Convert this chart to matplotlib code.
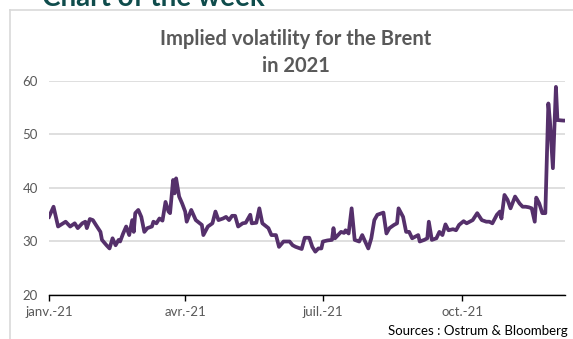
import matplotlib.pyplot as plt
import pandas as pd

# implied vol, Brent, 2021
dates = [
    '2021-01-01', '2021-01-04', '2021-01-07', '2021-01-12', '2021-01-15', '2021-01-18',
    '2021-01-20', '2021-01-23', '2021-01-25', '2021-01-26', '2021-01-28', '2021-01-30',
    '2021-02-01', '2021-02-04', '2021-02-05', '2021-02-08', '2021-02-10', '2021-02-12',
    '2021-02-14', '2021-02-16', '2021-02-17', '2021-02-19', '2021-02-21', '2021-02-23',
    '2021-02-25', '2021-02-26', '2021-02-27', '2021-03-01', '2021-03-03', '2021-03-05',
    '2021-03-07', '2021-03-10', '2021-03-11', '2021-03-13', '2021-03-15', '2021-03-17',
    '2021-03-19', '2021-03-21', '2021-03-22', '2021-03-24', '2021-03-25', '2021-03-26',
    '2021-03-28', '2021-03-30', '2021-04-01', '2021-04-02', '2021-04-05', '2021-04-08',
    '2021-04-12', '2021-04-13', '2021-04-16', '2021-04-19', '2021-04-21', '2021-04-23',
    '2021-04-26', '2021-04-28', '2021-04-30', '2021-05-02', '2021-05-04', '2021-05-06',
    '2021-05-09', '2021-05-11', '2021-05-14', '2021-05-15', '2021-05-18', '2021-05-20',
    '2021-05-22', '2021-05-26', '2021-05-28', '2021-05-31', '2021-06-02', '2021-06-05',
    '2021-06-09', '2021-06-11', '2021-06-13', '2021-06-17', '2021-06-19', '2021-06-22',
    '2021-06-24', '2021-06-26', '2021-06-28', '2021-06-30', '2021-07-01', '2021-07-04',
    '2021-07-07', '2021-07-08', '2021-07-09', '2021-07-11', '2021-07-13', '2021-07-15',
    '2021-07-16', '2021-07-18', '2021-07-20', '2021-07-22', '2021-07-25', '2021-07-27',
    '2021-07-31', '2021-08-02', '2021-08-04', '2021-08-06', '2021-08-10', '2021-08-12',
    '2021-08-14', '2021-08-17', '2021-08-19', '2021-08-20', '2021-08-23', '2021-08-25',
    '2021-08-27', '2021-08-29', '2021-09-02', '2021-09-03', '2021-09-06', '2021-09-08',
    '2021-09-09', '2021-09-11', '2021-09-14', '2021-09-16', '2021-09-18', '2021-09-20',
    '2021-09-22', '2021-09-25', '2021-09-27', '2021-09-29', '2021-10-02', '2021-10-04',
    '2021-10-06', '2021-10-08', '2021-10-11', '2021-10-14', '2021-10-17', '2021-10-19',
    '2021-10-21', '2021-10-24', '2021-10-26', '2021-10-27', '2021-10-29', '2021-10-31',
    '2021-11-02', '2021-11-05', '2021-11-08', '2021-11-10', '2021-11-12', '2021-11-14',
    '2021-11-16', '2021-11-18', '2021-11-19', '2021-11-21', '2021-11-23', '2021-11-25',
    '2021-11-27', '2021-11-28', '2021-11-30', '2021-12-02', '2021-12-03', '2021-12-07',
    '2021-12-08',
]
vol = [
    34.6, 36.5, 32.8, 33.7, 32.8, 33.4,
    32.5, 33.4, 33.7, 32.5, 34.2, 34.0,
    33.1, 31.8, 30.3, 29.3, 28.7, 30.6,
    29.3, 30.3, 30.0, 31.5, 32.8, 31.2,
    34.0, 31.8, 35.3, 35.9, 34.6, 31.8,
    32.5, 32.8, 33.7, 33.4, 34.3, 33.9,
    37.4, 35.6, 35.3, 41.5, 39.0, 41.8,
    38.4, 37.1, 35.6, 33.7, 35.9, 34.0,
    33.1, 31.2, 32.8, 33.4, 35.6, 34.0,
    34.3, 34.6, 34.0, 34.8, 34.8, 32.8,
    33.4, 33.5, 35.0, 33.4, 33.5, 36.2,
    33.4, 32.5, 31.2, 31.2, 29.0, 30.0,
    30.0, 29.3, 29.0, 28.6, 30.7, 30.7,
    29.0, 28.1, 28.7, 28.7, 30.0, 30.2,
    30.3, 32.5, 30.6, 31.2, 31.8, 31.6,
    32.1, 31.5, 36.2, 30.3, 30.0, 31.2,
    28.7, 30.6, 34.0, 35.0, 35.4, 31.5,
    32.5, 33.1, 33.4, 36.2, 34.6, 31.8,
    31.8, 30.6, 31.2, 30.0, 30.3, 30.6,
    33.7, 30.3, 30.6, 31.8, 31.2, 33.2,
    32.1, 32.3, 32.1, 33.1, 33.8, 33.4,
    33.7, 34.0, 35.3, 34.0, 33.7, 33.7,
    33.4, 35.0, 35.6, 34.3, 38.7, 37.8,
    36.2, 38.4, 37.1, 36.5, 36.5, 36.4,
    36.2, 33.7, 38.2, 37.1, 35.3, 35.3,
    55.8, 52.7, 43.7, 58.9, 52.7, 52.6,
    52.6,
]

tick_dates = ['2021-01-01', '2021-04-01', '2021-07-01', '2021-10-01']
tick_labels = ['janv.-21', 'avr.-21', 'juil.-21', 'oct.-21']
y_ticks = [20, 30, 40, 50, 60]

plt.rcParams['font.family'] = ['Lato', 'DejaVu Sans']
grey_txt = '#595959'

W, H = 573, 339
fig = plt.figure(figsize=(W / 100, H / 100), dpi=100)
ax = fig.add_axes([49 / W, 1 - 295 / H, (565 - 49) / W, (295 - 81) / H])

x = pd.to_datetime(dates)
ax.plot(x, vol, color='#55306b', lw=2.7, solid_joinstyle='round')

ax.set_xlim(pd.Timestamp('2021-01-01'), pd.Timestamp('2021-12-08'))
ax.set_ylim(20, 60)
ax.set_yticks(y_ticks)
ax.set_xticks(pd.to_datetime(tick_dates))
ax.set_xticklabels(tick_labels)
ax.grid(axis='y', color='#d9d9d9', lw=1.2)
ax.set_axisbelow(True)
for s in ['top', 'right', 'left']:
    ax.spines[s].set_visible(False)
ax.spines['bottom'].set_color('black')
ax.spines['bottom'].set_linewidth(1.0)
ax.tick_params(axis='y', length=0, labelsize=9.5, labelcolor=grey_txt, pad=8)
ax.tick_params(axis='x', length=4, width=1, color='black', direction='out',
               labelsize=9.5, labelcolor=grey_txt, pad=4)

# frame of the original slide
fig.add_artist(plt.Line2D([10 / W, 10 / W], [0, 1 - 10 / H], color='#d9d9d9', lw=1.2))
fig.add_artist(plt.Line2D([10 / W, 1], [1 - 10 / H, 1 - 10 / H], color='#d9d9d9', lw=1.2))

# slide heading, cut by the top edge as in the source
fig.text(42 / W, 1 - 6 / H, 'Chart of the week', color='#0f4c4c', fontsize=20,
         fontweight='bold', ha='left', va='baseline')
fig.text(296 / W, 1 - 39 / H, 'Implied volatility for the Brent', color=grey_txt,
         fontsize=14.5, fontweight='bold', ha='center', va='center')
fig.text(296 / W, 1 - 66 / H, 'in 2021', color=grey_txt,
         fontsize=14.5, fontweight='bold', ha='center', va='center')
fig.text(568 / W, 1 - 331 / H, 'Sources : Ostrum & Bloomberg', color='black',
         fontsize=9.5, ha='right', va='center')

fig.savefig('out.png', dpi=100)
